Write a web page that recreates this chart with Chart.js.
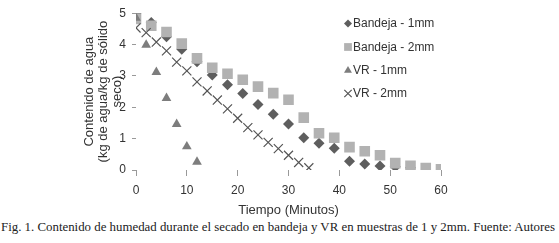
<!DOCTYPE html>
<html>
<head>
<meta charset="utf-8">
<script src="https://cdn.jsdelivr.net/npm/chart.js@4.4.1/dist/chart.umd.min.js"></script>
<style>
  body { margin: 0; background: #fff; }
  #wrap { position: relative; width: 559px; height: 243px; }
  #grafico { position: absolute; left: 0; top: 0; }
  #pie { position: absolute; left: 1px; top: 220px; white-space: nowrap;
         font-family: "Liberation Serif", "Times New Roman", serif; font-size: 13px; color: #222; }
</style>
</head>
<body>
<div id="wrap">
  <canvas id="grafico" width="559" height="218"></canvas>
  <span id="pie">Fig. 1. Contenido de humedad durante el secado en bandeja y VR en muestras de 1 y 2mm. Fuente: Autores</span>
</div>
<script>
// Datos (tiempo en minutos, contenido de agua)
const tiempoB1 = [0, 3, 6, 9, 12, 15, 18, 21, 24, 27, 30, 33, 36, 39, 42, 45, 48, 51, 54];
const bandeja1 = [5.0, 4.7, 4.25, 3.85, 3.45, 3.03, 2.72, 2.44, 2.09, 1.78, 1.47, 1.03, 0.85, 0.69, 0.28, 0.19, 0.13, 0.1, 0.07];

const tiempoB2 = [0, 3, 6, 9, 12, 15, 18, 21, 24, 27, 30, 33, 36, 39, 42, 45, 48, 51, 54, 57, 60];
const bandeja2 = [4.82, 4.6, 4.4, 4.03, 3.56, 3.26, 3.07, 2.88, 2.66, 2.45, 2.24, 1.67, 1.17, 1.03, 0.73, 0.6, 0.47, 0.22, 0.13, 0.06, 0.02];

const tiempoVR1 = [0, 2, 4, 6, 8, 10, 12];
const vr1 = [4.85, 3.99, 3.12, 2.29, 1.46, 0.75, 0.26];

const tiempoVR2 = [0, 2, 4, 6, 8, 10, 12, 14, 16, 18, 20, 22, 24, 26, 28, 30, 32, 34];
const vr2 = [4.53, 4.38, 4.08, 3.8, 3.44, 3.16, 2.81, 2.52, 2.23, 1.95, 1.65, 1.35, 1.12, 0.88, 0.68, 0.47, 0.24, 0.07];

const nombres = ['Bandeja - 1mm', 'Bandeja - 2mm', 'VR - 1mm', 'VR - 2mm'];
const ticksX = [0, 10, 20, 30, 40, 50, 60];
const ticksY = [0, 1, 2, 3, 4, 5];

const aPuntos = (xs, ys) => xs.map((x, i) => ({ x: x, y: ys[i] }));

const colorTexto = '#333';
const fuente = '"Liberation Sans", Arial, sans-serif';

// Leyenda dibujada a mano dentro del área del gráfico
const leyendaPropia = {
    id: 'leyendaPropia',
    afterDraw(chart) {
        const ctx = chart.ctx;
        const filas = [23.5, 47, 70.5, 93.5];
        const tam = [4, 5.5, 4.6, 5.2];
        ctx.save();
        chart.data.datasets.forEach((ds, i) => {
            ctx.fillStyle = ds.backgroundColor;
            ctx.strokeStyle = ds.borderColor;
            ctx.lineWidth = ds.borderWidth;
            Chart.helpers.drawPoint(ctx, { pointStyle: ds.pointStyle, radius: tam[i], rotation: 0, borderWidth: ds.borderWidth }, 348, filas[i]);
            ctx.fillStyle = colorTexto;
            ctx.font = '12px ' + fuente;
            ctx.textBaseline = 'middle';
            ctx.textAlign = 'left';
            ctx.fillText(nombres[i], 353, filas[i] + 0.5);
        });
        ctx.restore();
    }
};

new Chart(document.getElementById('grafico'), {
    type: 'scatter',
    data: {
        datasets: [
            { label: nombres[0], data: aPuntos(tiempoB1, bandeja1), pointStyle: 'rectRot', pointRadius: 5.5,
              backgroundColor: '#5e5e5e', borderColor: '#5e5e5e', borderWidth: 0, order: 4 },
            { label: nombres[1], data: aPuntos(tiempoB2, bandeja2), pointStyle: 'rect', pointRadius: 7.5,
              backgroundColor: '#b2b2b2', borderColor: '#b2b2b2', borderWidth: 0, order: 3 },
            { label: nombres[2], data: aPuntos(tiempoVR1, vr1), pointStyle: 'triangle', pointRadius: 5.6,
              backgroundColor: '#7d7d7d', borderColor: '#7d7d7d', borderWidth: 0, order: 2 },
            { label: nombres[3], data: aPuntos(tiempoVR2, vr2), pointStyle: 'crossRot', pointRadius: 6.4,
              backgroundColor: '#555', borderColor: '#555', borderWidth: 1.2, order: 1 }
        ]
    },
    options: {
        responsive: false,
        animation: false,
        layout: { padding: { left: 0, right: 118, top: 10, bottom: 0 } },
        plugins: { legend: { display: false }, tooltip: { enabled: false } },
        scales: {
            x: {
                type: 'linear', min: 0, max: 60,
                afterBuildTicks: s => { s.ticks = ticksX.map(v => ({ value: v })); },
                afterFit: s => { s.height = 48; },
                grid: { drawOnChartArea: false, drawTicks: true, tickLength: 6, color: '#999' },
                border: { display: false },
                ticks: { color: colorTexto, font: { family: fuente, size: 12 }, padding: 7 },
                title: { display: true, text: 'Tiempo (Minutos)', color: colorTexto,
                         font: { family: fuente, size: 13 }, padding: { top: 0, bottom: 0 } }
            },
            y: {
                min: 0, max: 5,
                afterBuildTicks: s => { s.ticks = ticksY.map(v => ({ value: v })); },
                afterFit: s => { s.width = 136; },
                grid: { drawOnChartArea: false, drawTicks: true, tickLength: 4, color: '#999' },
                border: { display: false },
                ticks: { color: colorTexto, font: { family: fuente, size: 12 }, padding: 6 },
                title: { display: true, text: ['Contenido de agua', '(kg de agua/kg de sólido', 'seco)'], color: colorTexto,
                         font: { family: fuente, size: 13, lineHeight: 1.08 }, padding: { top: 82, bottom: 0 } }
            }
        }
    },
    plugins: [leyendaPropia]
});

// Ajustar el pie de figura al ancho de la imagen
const pie = document.getElementById('pie');
const ancho = pie.getBoundingClientRect().width;
pie.style.fontSize = (13 * 554 / ancho).toFixed(2) + 'px';
</script>
</body>
</html>
